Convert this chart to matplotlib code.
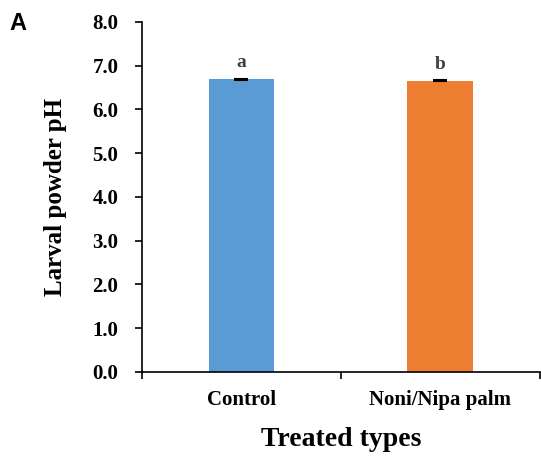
import numpy as np
import matplotlib.pyplot as plt

categories = ['Control', 'Noni/Nipa palm']
ph_values = [6.69, 6.66]
ph_err = [0.01, 0.01]
sig_letters = ['a', 'b']
bar_colors = ['#5B9BD5', '#ED7D31']

plt.rcParams['font.family'] = ['Liberation Serif', 'DejaVu Serif']

fig = plt.figure(figsize=(5.41, 4.57), dpi=100)
ax = fig.add_axes([0.2625, 0.186, 0.735, 0.766])

x = np.arange(len(categories))
ax.bar(x, ph_values, width=0.33, color=bar_colors, yerr=ph_err,
       error_kw=dict(ecolor='black', capsize=5, elinewidth=1, capthick=1.5))

for i, lab in enumerate(sig_letters):
    ax.text(x[i], ph_values[i] + 0.18, lab, ha='center', va='bottom',
            fontsize=14, fontweight='bold', color='#404040')

ax.set_xlim(-0.5, 1.5)
ax.set_ylim(0, 8)
ax.set_yticks(np.arange(0, 8.1, 1.0))
ax.set_yticklabels(['%.1f' % v for v in np.arange(0, 8.1, 1.0)], fontsize=15, fontweight='bold')
ax.set_xticks(x)
ax.set_xticklabels(categories, fontsize=15, fontweight='bold')
ax.set_xticks([-0.5, 0.5, 1.5], minor=True)
ax.tick_params(axis='x', which='major', length=0, pad=13)
ax.tick_params(axis='x', which='minor', length=5, width=1.2, direction='out')
ax.tick_params(axis='y', length=5, width=1.2, direction='out', pad=12)

for s in ['top', 'right']:
    ax.spines[s].set_visible(False)
for s in ['left', 'bottom']:
    ax.spines[s].set_linewidth(1.2)

ax.set_ylabel('Larval powder pH', fontsize=18, fontweight='bold', labelpad=18)
ax.set_xlabel('Treated types', fontsize=20, fontweight='bold', labelpad=12)

fig.text(0.018, 0.935, 'A', fontsize=17, fontweight='bold', family='Liberation Sans')

fig.savefig('out.png', dpi=100)
